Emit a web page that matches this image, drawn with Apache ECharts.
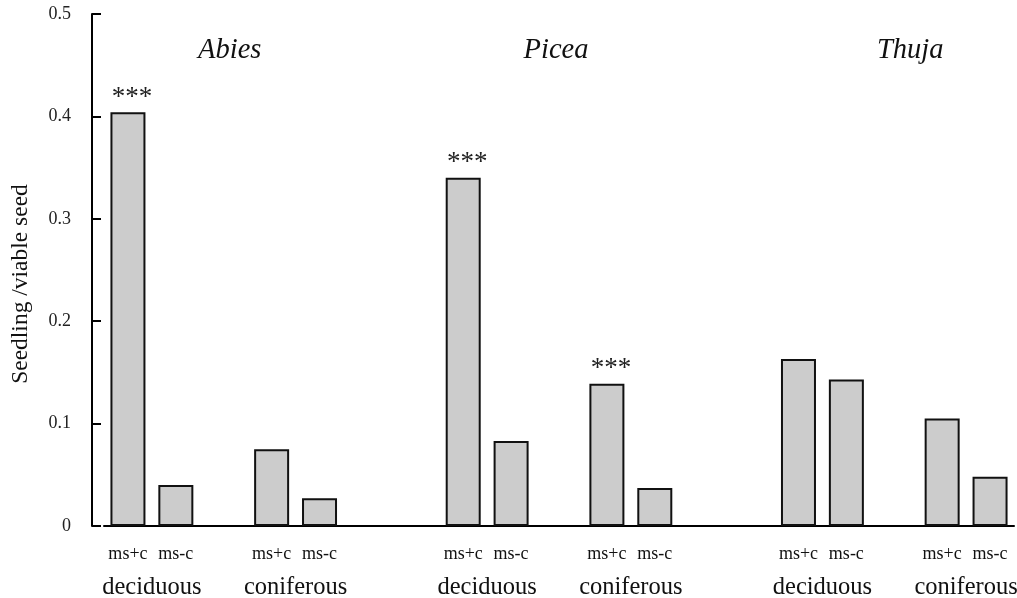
<!DOCTYPE html>
<html>
<head>
<meta charset="utf-8">
<script src="https://cdn.jsdelivr.net/npm/echarts@6/dist/echarts.min.js"></script>
<style>
html,body{margin:0;padding:0;background:#fff;}
#chart{width:1017px;height:598px;}
</style>
</head>
<body>
<div id="chart"></div>
<script>
// ---- data ----
const genera = ['Abies', 'Picea', 'Thuja'];
const forests = ['deciduous', 'coniferous'];
const treatments = ['ms+c', 'ms-c'];
// order: deciduous ms+c, deciduous ms-c, coniferous ms+c, coniferous ms-c
const abies = [0.404, 0.040, 0.075, 0.027];
const picea = [0.340, 0.083, 0.139, 0.037];
const thuja = [0.163, 0.143, 0.105, 0.048];
const abiesSig = ['***', '', '', ''];
const piceaSig = ['***', '', '***', ''];
const thujaSig = ['', '', '', ''];
const yTicks = [0, 0.1, 0.2, 0.3, 0.4, 0.5];

// ---- build slot layout (19 slots, gaps between pairs/groups) ----
const groupVals = [abies, picea, thuja];
const groupSig = [abiesSig, piceaSig, thujaSig];
const slotCats = [];
const slotVals = [];
const slotSig = [];
groupVals.forEach((vals, g) => {
  if (g > 0) { slotCats.push('', ''); slotVals.push('-', '-'); slotSig.push('', ''); }
  for (let f = 0; f < 2; f++) {
    if (f > 0) { slotCats.push(''); slotVals.push('-'); slotSig.push(''); }
    for (let t = 0; t < 2; t++) {
      slotCats.push(treatments[t]);
      slotVals.push(vals[f * 2 + t]);
      slotSig.push(groupSig[g][f * 2 + t]);
    }
  }
});
// half-slot boundary points (39) for forest-type and genus labels
const nSlots = slotCats.length;
const forestPts = new Array(2 * nSlots + 1).fill('');
const genusPts = new Array(2 * nSlots + 1).fill('');
let idx = 0;
groupVals.forEach((vals, g) => {
  const start = idx;
  for (let f = 0; f < 2; f++) {
    forestPts[2 * (idx + 1)] = forests[f];
    idx += 3;
  }
  genusPts[2 * (start + 2) + 1] = genus(g);
  idx += 1;
});
function genus(g) {
  const pad = [[0, 0, 0, 12], [0, 6, 0, 0], [0, 0, 0, 32]][g];
  return { value: genera[g], textStyle: { padding: pad } };
}

const FONT = '"Liberation Serif", "DejaVu Serif", serif';
const chart = echarts.init(document.getElementById('chart'));
chart.setOption({
  animation: false,
  backgroundColor: '#fff',
  grid: { left: 104, right: 3, top: 14, bottom: 72, containLabel: false, outerBoundsMode: 'none' },
  xAxis: [
    {
      type: 'category', data: slotCats, boundaryGap: true,
      axisLine: { show: true, lineStyle: { color: '#000', width: 2 } },
      axisTick: { show: false },
      axisLabel: { interval: 0, margin: 19, fontFamily: FONT, fontSize: 18, color: '#111' }
    },
    {
      type: 'category', data: forestPts, boundaryGap: false, position: 'bottom',
      axisLine: { show: false }, axisTick: { show: false }, splitLine: { show: false },
      axisLabel: { interval: 0, margin: 49, fontFamily: FONT, fontSize: 24.5, color: '#111' }
    },
    {
      type: 'category', data: genusPts, boundaryGap: false, position: 'top',
      axisLine: { show: false }, axisTick: { show: false }, splitLine: { show: false },
      axisLabel: { interval: 0, inside: true, margin: 22, fontFamily: FONT, fontStyle: 'italic', fontSize: 28.5, color: '#111' }
    }
  ],
  yAxis: {
    type: 'value', min: yTicks[0], max: yTicks[yTicks.length - 1], interval: 0.1,
    offset: 12,
    name: 'Seedling /viable seed', nameLocation: 'middle', nameGap: 59,
    nameTextStyle: { fontFamily: FONT, fontSize: 23.5, color: '#111', padding: [0, 28, 0, 0] },
    axisLine: { show: true, lineStyle: { color: '#000', width: 2 } },
    axisTick: { show: true, inside: true, length: 9, lineStyle: { color: '#000', width: 2 } },
    splitLine: { show: false },
    axisLabel: { margin: 21, fontFamily: FONT, fontSize: 18, color: '#222',
      formatter: v => (v === 0 ? '0' : v.toFixed(1)) }
  },
  series: [{
    type: 'bar', xAxisIndex: 0,
    data: slotVals,
    barWidth: 35,
    itemStyle: { color: '#cccccc', borderColor: '#111', borderWidth: 2 },
    label: {
      show: true, position: 'top', distance: 1, offset: [4, 0],
      fontFamily: FONT, fontSize: 27, color: '#222',
      formatter: p => slotSig[p.dataIndex] || ''
    }
  }]
});
</script>
</body>
</html>
